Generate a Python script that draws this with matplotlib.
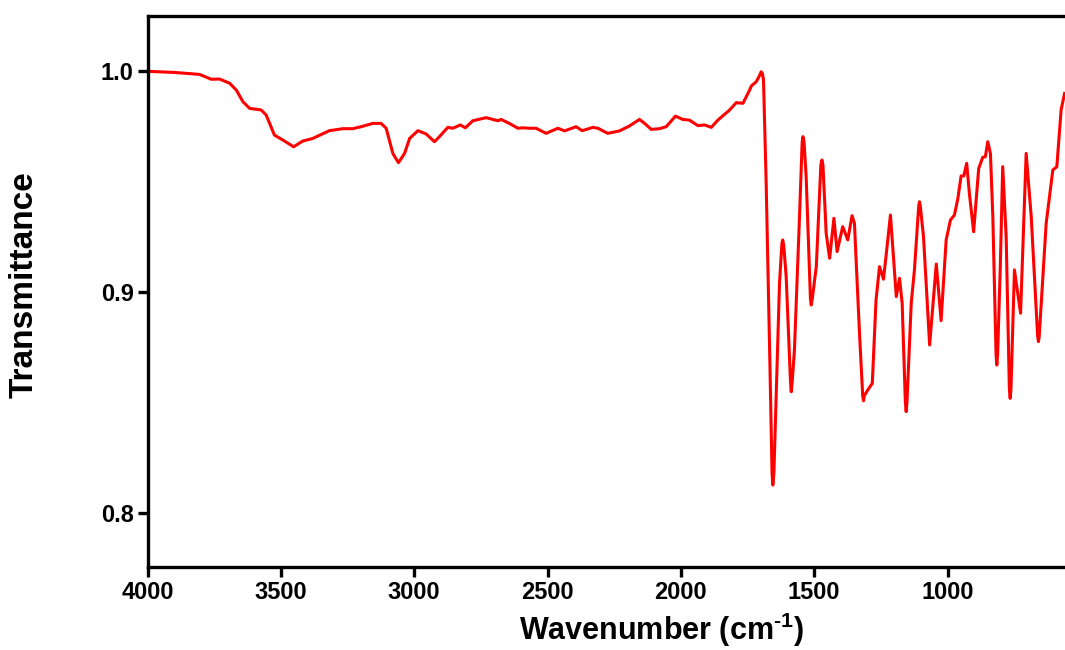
import matplotlib
matplotlib.use('Agg')
import matplotlib.pyplot as plt

# FTIR spectrum
wavenumber = [4000, 3900, 3805, 3761, 3730, 3692, 3667, 3642, 3617, 3574, 3555, 3524, 3493,
              3452, 3418, 3380, 3318, 3268, 3230, 3199, 3155, 3124, 3105, 3080, 3059, 3036,
              3017, 2986, 2955, 2924, 2905, 2874, 2855, 2827, 2808, 2780, 2730, 2686, 2674,
              2643, 2611, 2593, 2568, 2543, 2505, 2461, 2436, 2393, 2370, 2330, 2311, 2274,
              2230, 2193, 2155, 2136, 2111, 2080, 2055, 2020, 1993, 1968, 1936, 1911, 1886,
              1861, 1817, 1792, 1767, 1742, 1736, 1717, 1703, 1699, 1694, 1690, 1680, 1667,
              1658, 1655, 1651, 1643, 1630, 1621, 1618, 1614, 1605, 1589, 1586, 1582, 1574,
              1555, 1545, 1542, 1538, 1530, 1514, 1511, 1507, 1492, 1475, 1471, 1467, 1455,
              1442, 1426, 1414, 1393, 1374, 1358, 1349, 1330, 1318, 1315, 1312, 1299, 1282,
              1268, 1255, 1240, 1228, 1214, 1192, 1180, 1170, 1158, 1155, 1152, 1136, 1124,
              1108, 1105, 1102, 1090, 1067, 1042, 1024, 1005, 989, 974, 961, 949, 939, 928,
              918, 902, 883, 868, 858, 849, 839, 830, 818, 815, 812, 802, 793, 780, 768, 765,
              762, 749, 726, 705, 686, 662, 659, 656, 630, 605, 590, 574, 561]
transmittance = [1.0000, 0.9995, 0.9986, 0.9964, 0.9965, 0.9946, 0.9915, 0.9862, 0.9832,
                 0.9825, 0.9802, 0.9711, 0.9689, 0.9658, 0.9684, 0.9696, 0.9731, 0.9740,
                 0.9740, 0.9749, 0.9764, 0.9764, 0.9742, 0.9628, 0.9586, 0.9628, 0.9696,
                 0.9731, 0.9716, 0.9681, 0.9704, 0.9746, 0.9742, 0.9757, 0.9744, 0.9776,
                 0.9790, 0.9776, 0.9782, 0.9764, 0.9742, 0.9744, 0.9742, 0.9742, 0.9719,
                 0.9742, 0.9730, 0.9749, 0.9731, 0.9746, 0.9742, 0.9719, 0.9730, 0.9752,
                 0.9782, 0.9764, 0.9737, 0.9740, 0.9749, 0.9797, 0.9782, 0.9779, 0.9754,
                 0.9757, 0.9746, 0.9779, 0.9825, 0.9858, 0.9855, 0.9915, 0.9933, 0.9953,
                 0.9985, 0.9998, 0.9990, 0.9960, 0.9493, 0.8737, 0.8180, 0.8125, 0.8180,
                 0.8510, 0.9040, 0.9220, 0.9236, 0.9210, 0.9070, 0.8600, 0.8548, 0.8600,
                 0.8737, 0.9341, 0.9680, 0.9704, 0.9680, 0.9522, 0.8970, 0.8941, 0.8970,
                 0.9115, 0.9575, 0.9598, 0.9575, 0.9266, 0.9153, 0.9334, 0.9183, 0.9296,
                 0.9236, 0.9346, 0.9311, 0.8813, 0.8530, 0.8507, 0.8530, 0.8556, 0.8586,
                 0.8964, 0.9115, 0.9058, 0.9190, 0.9349, 0.8979, 0.9062, 0.8949, 0.8500,
                 0.8458, 0.8500, 0.8949, 0.9100, 0.9390, 0.9409, 0.9390, 0.9251, 0.8760,
                 0.9127, 0.8870, 0.9236, 0.9326, 0.9349, 0.9425, 0.9526, 0.9526, 0.9583,
                 0.9447, 0.9273, 0.9560, 0.9610, 0.9613, 0.9681, 0.9628, 0.9341, 0.8720,
                 0.8669, 0.8720, 0.9115, 0.9568, 0.9251, 0.8560, 0.8518, 0.8560, 0.9100,
                 0.8904, 0.9628, 0.9341, 0.8800, 0.8775, 0.8800, 0.9311, 0.9553, 0.9568,
                 0.9825, 0.9900]

plt.rcParams['font.family'] = ['Liberation Sans', 'DejaVu Sans']
plt.rcParams['font.weight'] = 'bold'
plt.rcParams['mathtext.fontset'] = 'custom'
plt.rcParams['mathtext.rm'] = 'Liberation Sans:bold'
plt.rcParams['mathtext.bf'] = 'Liberation Sans:bold'
plt.rcParams['mathtext.default'] = 'bf'

W, H = 1065, 650
fig = plt.figure(figsize=(W / 100, H / 100), dpi=100)
# the axes run past the right edge of the figure, as in the cropped original
ax = fig.add_axes([147.5 / W, (H - 567) / H, 960 / W, (567 - 15.7) / H])

ax.plot(wavenumber, transmittance, color='#ff0000', lw=2.2)

ax.set_xlim(4000, 400)
ax.set_ylim(0.7754, 1.0252)
ax.set_xticks([4000, 3500, 3000, 2500, 2000, 1500, 1000])
ax.set_yticks([0.8, 0.9, 1.0])
ax.set_yticklabels(['0.8', '0.9', '1.0'])

for side in ['left', 'bottom', 'top', 'right']:
    ax.spines[side].set_linewidth(2.4)
ax.tick_params(axis='both', direction='out', length=7, width=2.4, labelsize=17, pad=3)

ax.set_xlabel(r'Wavenumber (cm$^{\text{-1}}$)', fontsize=22, fontweight='bold')
ax.set_ylabel('Transmittance', fontsize=24, fontweight='bold')
ax.xaxis.set_label_coords(0.535, -0.08)
ax.yaxis.set_label_coords(-0.112, 0.512)

fig.savefig('out.png', dpi=100)
